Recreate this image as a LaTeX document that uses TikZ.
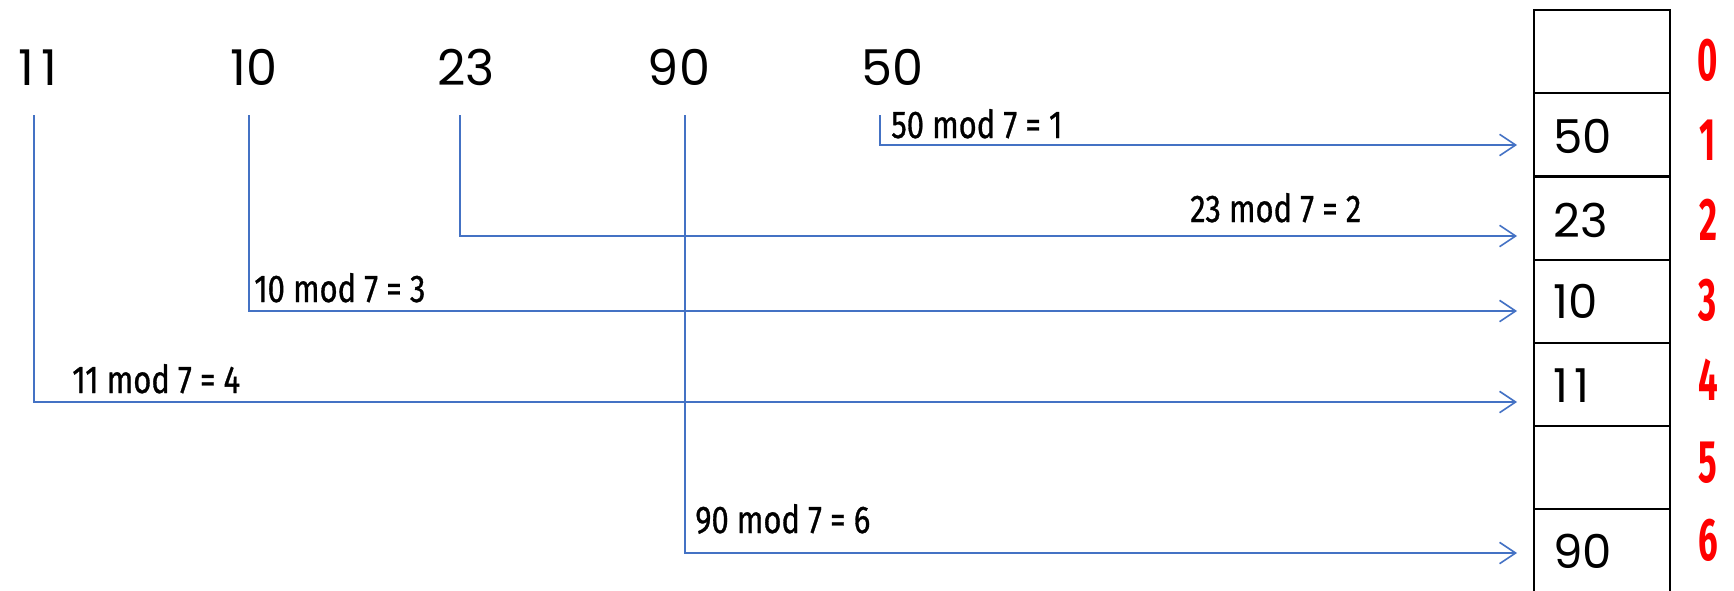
\documentclass[tikz,border=0pt]{standalone}
\usepackage{fontspec}
\setmainfont{Poppins}
\newfontfamily\condfont[FakeStretch=0.8,FakeBold=0.8]{Fira Sans}
\newfontfamily\redfont[FakeStretch=0.58]{Fira Sans}
\usetikzlibrary{arrows.meta}
\definecolor{lineblue}{HTML}{4472C4}
\definecolor{idxred}{HTML}{FF0000}
\newcommand{\oneone}{1\kern5pt1}
\begin{document}
\begin{tikzpicture}[x=0.75pt,y=-0.75pt,
  key/.style={anchor=base,inner sep=0pt,font=\fontsize{37}{40}\selectfont},
  val/.style={anchor=base west,inner sep=0pt,font=\fontsize{35}{38}\selectfont},
  lab/.style={anchor=base west,inner sep=0pt,font=\condfont\fontsize{29}{32}\selectfont},
  idx/.style={anchor=base,inner sep=0pt,text=idxred,font=\redfont\bfseries\fontsize{45}{48}\selectfont},
  cell/.style={draw=black,line width=1.6pt,minimum width=102pt,minimum height=62.4pt,inner sep=0pt,anchor=north west},
  arr/.style={draw=lineblue,line width=1.2pt,-{Straight Barb[length=12pt,width=16pt,line width=1.2pt]}}]
\useasboundingbox (0,0) rectangle (1734,590);
% keys
\node[key] (k11) at (38,85) {\oneone};
\node[key] (k10) at (254,85) {10};
\node[key] (k23) at (466,85) {23};
\node[key] (k90) at (679,85) {90};
\node[key] (k50) at (892,85) {50};
% table
\node[cell] (c0) at (1533,9) {};
\node[cell] (c1) at (1533,92.2) {};
\node[cell] (c2) at (1533,175.4) {};
\node[cell] (c3) at (1533,258.6) {};
\node[cell] (c4) at (1533,341.8) {};
\node[cell] (c5) at (1533,425) {};
\node[cell,minimum height=75pt] (c6) at (1533,508.2) {};
% values
\node[val] (v1) at (1553,153) {50};
\node[val] (v2) at (1553,237) {23};
\node[val] (v3) at (1553,318) {10};
\node[val] (v4) at (1553,402) {\oneone};
\node[val] (v6) at (1553,568) {90};
% indices
\node[idx] (i0) at (1708,80) {0};
\node[idx] (i1) at (1708,160) {1};
\node[idx] (i2) at (1708,240) {2};
\node[idx] (i3) at (1708,320) {3};
\node[idx] (i4) at (1708,400) {4};
\node[idx] (i5) at (1708,482) {5};
\node[idx] (i6) at (1708,560) {6};
% connector ends
\coordinate (s11) at (34,115);
\coordinate (s10) at (249,115);
\coordinate (s23) at (460,115);
\coordinate (s90) at (685,115);
\coordinate (s50) at (880,115);
\coordinate (e1) at (1517,145);
\coordinate (e2) at (1517,236);
\coordinate (e3) at (1517,311);
\coordinate (e4) at (1517,402);
\coordinate (e6) at (1517,553);
\draw[arr] (s50) |- (e1);
\draw[arr] (s23) |- (e2);
\draw[arr] (s10) |- (e3);
\draw[arr] (s11) |- (e4);
\draw[arr] (s90) |- (e6);
% labels
\node[lab] (l1) at (891,138) {50 mod 7 = 1};
\node[lab] (l2) at (1190,222) {23 mod 7 = 2};
\node[lab] (l3) at (254,302) {10 mod 7 = 3};
\node[lab] (l4) at (72,393) {11 mod 7 = 4};
\node[lab] (l6) at (695,533) {90 mod 7 = 6};
\end{tikzpicture}
\end{document}
